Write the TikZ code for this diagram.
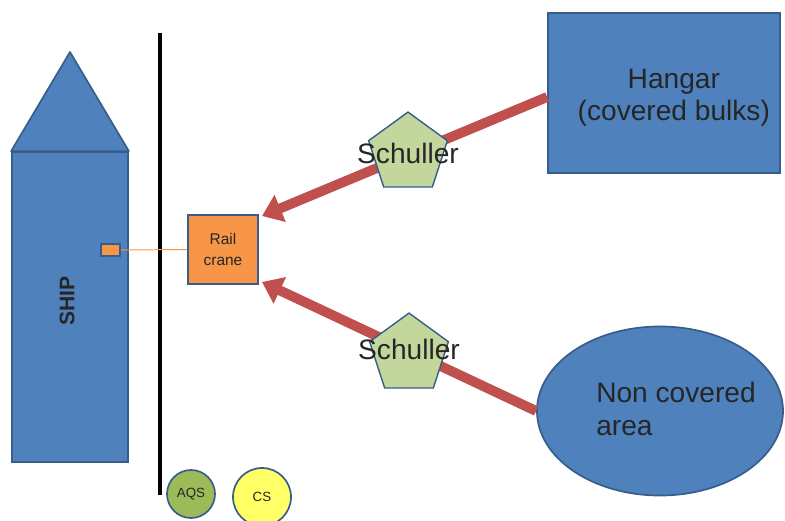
\documentclass[tikz,border=0pt]{standalone}
\usepackage{fontspec}
\setmainfont{Liberation Sans}
\usepackage{tikz}
\usetikzlibrary{shapes.geometric}
\usetikzlibrary{arrows.meta}
\usepackage{xcolor}

\definecolor{boxblue}{HTML}{4F81BD}
\definecolor{edgeblue}{HTML}{385D8A}
\definecolor{craneorange}{HTML}{F79646}
\definecolor{flowred}{HTML}{C0504D}
\definecolor{pentgreen}{HTML}{C3D69B}
\definecolor{aqsgreen}{HTML}{9BBB59}
\definecolor{csyellow}{HTML}{FFFF66}

\tikzset{
  bluebox/.style={draw=edgeblue, fill=boxblue, line width=1.2pt},
  flow/.style={flowred, line width=7pt, -{Triangle[length=14pt,width=20pt]}},
  schuller/.style={regular polygon, regular polygon sides=5, minimum size=2.07cm,
    draw=edgeblue, fill=pentgreen, line width=1pt, inner sep=0pt,
    label={[font=\fontsize{20}{22}\selectfont, text=black!85, yshift=#1]center:Schuller}},
  tag/.style={circle, draw=edgeblue, line width=1.2pt, minimum size=#1, inner sep=0pt,
    font=\fontsize{9.5}{10}\selectfont, text=black!85}
}

\begin{document}
\begin{tikzpicture}[x=0.025cm, y=-0.025cm]
\useasboundingbox (0,0) rectangle (785,521);
% ship
\node[bluebox, minimum width=2.9cm, minimum height=7.75cm, inner sep=0pt] (ship) at (70,307) {};
\filldraw[bluebox, line join=round] (ship.north west) -- (70,52) -- (ship.north east) -- cycle;
\node[rotate=90, font=\bfseries\fontsize{15}{16}\selectfont, text=black!85] (shiplabel) at (67,301) {SHIP};
\node[draw=edgeblue, fill=craneorange, line width=0.8pt, minimum width=0.475cm, minimum height=0.3cm, inner sep=0pt] (hatch) at (110.5,250) {};
% quay
\coordinate (quaytop) at (160,33);
\coordinate (quaybot) at (160,495);
\draw[line width=2.8pt] (quaytop) -- (quaybot);
% crane
\node[draw=edgeblue, fill=craneorange, line width=1.2pt, minimum width=1.75cm, minimum height=1.725cm,
  align=center, font=\fontsize{11}{15}\selectfont, text=black!85] (crane) at (223,249.5) {Rail\\crane};
\draw[craneorange, line width=0.7pt] (hatch.east) -- (crane.west);
% storage
\node[bluebox, minimum width=5.8cm, minimum height=4cm,
  label={[align=center, font=\fontsize{20}{23}\selectfont, text=black!85, xshift=7pt, yshift=-3.5pt]center:Hangar\\(covered bulks)}] (hangar) at (664,93) {};
\node[bluebox, ellipse, minimum width=6.15cm, minimum height=4.225cm] (area) at (660,411) {};
\node[align=left, font=\fontsize{20}{24}\selectfont, text=black!85] (arealabel) at (676,409) {Non covered\\area};
% flows
\draw[flow] (hangar.west |- 0,97) -- (262,216);
\draw[flow] (area.west) -- (262,282);
\node[schuller=0pt] (sch1) at (408,153.5) {};
\node[schuller=3.5pt] (sch2) at (409,354.5) {};
% tags
\node[tag=1.2cm, fill=aqsgreen] (aqs) at (191,494) {AQS};
\node[tag=1.45cm, fill=csyellow] (cs) at (262,497) {CS};
\end{tikzpicture}
\end{document}
